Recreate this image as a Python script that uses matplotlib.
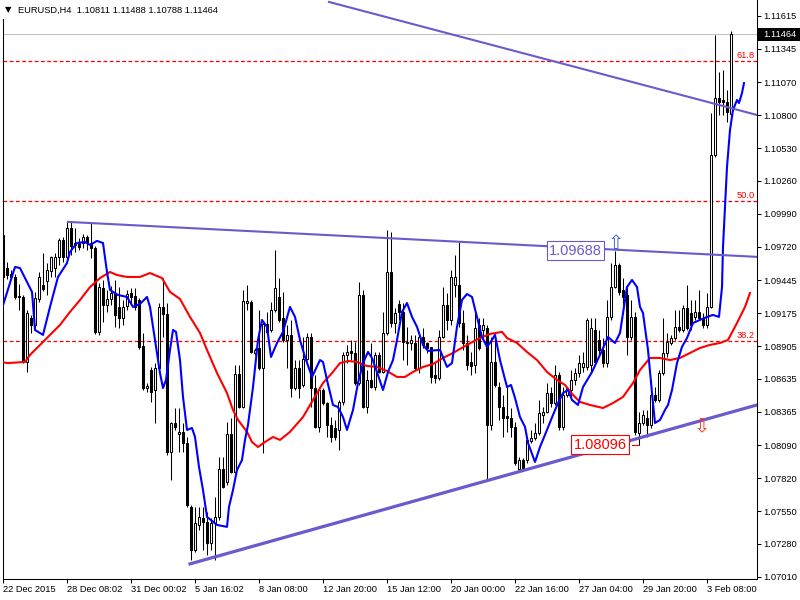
import numpy as np
import matplotlib
matplotlib.use("Agg")
import matplotlib.pyplot as plt
from matplotlib.patches import Rectangle

plt.rcParams['font.family'] = ['Liberation Sans', 'DejaVu Sans']

symbol = "EURUSD,H4"

# H4 candles, one value per bar (price)
opens = [
    1.09817, 1.09545, 1.09496, 1.09472, 1.09316, 1.09308, 1.08774, 1.09135, 1.09078, 1.09291,
    1.09406, 1.09439, 1.09521, 1.09545, 1.09637, 1.09776, 1.09637, 1.09874, 1.09735, 1.09751,
    1.09751, 1.09800, 1.09751, 1.09710, 1.09021, 1.09381, 1.09242, 1.09291, 1.09340, 1.09226,
    1.09135, 1.09234, 1.09340, 1.09316, 1.09283, 1.08906, 1.08560, 1.08708, 1.08544, 1.08724,
    1.09226, 1.09168, 1.08036, 1.08273, 1.08183, 1.08200, 1.08109, 1.07584, 1.07231, 1.07436,
    1.07494, 1.07461, 1.07288, 1.07452, 1.07502, 1.07895, 1.07789, 1.08183, 1.07870, 1.08675,
    1.08404, 1.09262, 1.09267, 1.08848, 1.08889, 1.08724, 1.09086, 1.09037, 1.09201, 1.09308,
    1.09135, 1.08955, 1.08996, 1.08560, 1.08724, 1.08585, 1.08798, 1.08979, 1.08560, 1.08241,
    1.08544, 1.08437, 1.08257, 1.08232, 1.08216, 1.08446, 1.08832, 1.08865, 1.08848, 1.08601,
    1.09324, 1.08404, 1.08626, 1.08568, 1.08832, 1.08692, 1.09012, 1.09513, 1.09094, 1.09250,
    1.09185, 1.08939, 1.08930, 1.08930, 1.08724, 1.08979, 1.08930, 1.08898, 1.08667, 1.08642,
    1.08979, 1.09242, 1.09119, 1.09406, 1.09406, 1.09094, 1.08930, 1.08774, 1.08749, 1.09078,
    1.09037, 1.09053, 1.08257, 1.08774, 1.08568, 1.08404, 1.08331, 1.08314, 1.08241, 1.07895,
    1.07969, 1.07969, 1.08126, 1.08150, 1.08191, 1.08339, 1.08363, 1.08519, 1.08437, 1.08667,
    1.08241, 1.08503, 1.08544, 1.08626, 1.08683, 1.08733, 1.08733, 1.08749, 1.09037, 1.08955,
    1.08873, 1.08765, 1.09144, 1.09389, 1.09570, 1.09365, 1.09324, 1.08979, 1.09144, 1.08191,
    1.08273, 1.08314, 1.08257, 1.08503, 1.08462, 1.08683, 1.08848, 1.08930, 1.08971, 1.09062,
    1.09037, 1.09218, 1.09176, 1.09144, 1.09185, 1.09135, 1.09078, 1.09226, 1.10474, 1.10941,
    1.10925, 1.10909, 1.10811,
]
highs = [
    1.09858, 1.09595, 1.09529, 1.09496, 1.09414, 1.09324, 1.09201, 1.09160, 1.09349, 1.09513,
    1.09669, 1.09586, 1.09645, 1.09669, 1.09792, 1.09800, 1.09924, 1.09924, 1.09874, 1.09792,
    1.09825, 1.09817, 1.09924, 1.09727, 1.09422, 1.09447, 1.09365, 1.09398, 1.09447, 1.09389,
    1.09283, 1.09365, 1.09381, 1.09381, 1.09299, 1.09012, 1.08601, 1.08733, 1.08765, 1.09258,
    1.09463, 1.09258, 1.08282, 1.08396, 1.08396, 1.08273, 1.08158, 1.07600, 1.07584, 1.07584,
    1.07584, 1.07543, 1.07494, 1.07666, 1.07994, 1.07994, 1.08282, 1.08314, 1.08749, 1.08749,
    1.09365, 1.09406, 1.09283, 1.08889, 1.09201, 1.09103, 1.09185, 1.09267, 1.09694, 1.09463,
    1.09349, 1.09078, 1.09119, 1.08790, 1.08790, 1.08979, 1.09012, 1.09012, 1.08667, 1.08568,
    1.08560, 1.08446, 1.08322, 1.08298, 1.08462, 1.08856, 1.08914, 1.08955, 1.08939, 1.09430,
    1.09365, 1.08708, 1.08930, 1.08856, 1.08856, 1.09185, 1.09858, 1.09841, 1.09218, 1.09283,
    1.09258, 1.09062, 1.08996, 1.08996, 1.08996, 1.09053, 1.08939, 1.08898, 1.08765, 1.09037,
    1.09389, 1.09340, 1.09529, 1.09653, 1.09759, 1.09201, 1.08996, 1.08856, 1.09201, 1.09135,
    1.09135, 1.09078, 1.08979, 1.08955, 1.08610, 1.08503, 1.08568, 1.08396, 1.08282, 1.07994,
    1.07986, 1.08158, 1.08216, 1.08273, 1.08462, 1.08404, 1.08601, 1.08568, 1.08749, 1.08692,
    1.08568, 1.08568, 1.08708, 1.08724, 1.08832, 1.08856, 1.09135, 1.09135, 1.09135, 1.09037,
    1.08971, 1.09283, 1.09586, 1.09688, 1.09586, 1.09463, 1.09406, 1.09283, 1.09185, 1.08363,
    1.08380, 1.08380, 1.08626, 1.08568, 1.08708, 1.09135, 1.09012, 1.08996, 1.09201, 1.09201,
    1.09242, 1.09406, 1.09283, 1.09283, 1.09365, 1.09176, 1.09340, 1.10818, 1.11459, 1.11155,
    1.11171, 1.11007, 1.11488,
]
lows = [
    1.09447, 1.09455, 1.09447, 1.09291, 1.09201, 1.08765, 1.08692, 1.09012, 1.09053, 1.09267,
    1.09357, 1.09324, 1.09472, 1.09472, 1.09570, 1.09595, 1.09611, 1.09653, 1.09678, 1.09694,
    1.09710, 1.09694, 1.09628, 1.09004, 1.08996, 1.09103, 1.09185, 1.09242, 1.09062, 1.09053,
    1.09078, 1.09201, 1.09258, 1.09201, 1.08881, 1.08544, 1.08528, 1.08446, 1.08273, 1.08708,
    1.08979, 1.08011, 1.07805, 1.08216, 1.08036, 1.08036, 1.07584, 1.07148, 1.07215, 1.07395,
    1.07231, 1.07190, 1.07231, 1.07148, 1.07477, 1.07739, 1.07764, 1.07862, 1.07862, 1.08396,
    1.08396, 1.09201, 1.08848, 1.08832, 1.08708, 1.08027, 1.09012, 1.09021, 1.09185, 1.09103,
    1.08939, 1.08724, 1.08487, 1.08544, 1.08479, 1.08568, 1.08790, 1.08404, 1.08232, 1.08200,
    1.08421, 1.08158, 1.08117, 1.08134, 1.08052, 1.08421, 1.08765, 1.08790, 1.08585, 1.08585,
    1.08396, 1.08355, 1.08560, 1.08544, 1.08683, 1.08683, 1.08996, 1.09062, 1.09012, 1.09119,
    1.08790, 1.08749, 1.08873, 1.08708, 1.08683, 1.08889, 1.08848, 1.08601, 1.08601, 1.08626,
    1.08971, 1.09037, 1.09078, 1.09308, 1.09062, 1.08873, 1.08708, 1.08667, 1.08683, 1.08873,
    1.08955, 1.07805, 1.08216, 1.08568, 1.08298, 1.08158, 1.08200, 1.08158, 1.07928, 1.07887,
    1.07887, 1.07944, 1.08109, 1.08134, 1.08175, 1.08273, 1.08355, 1.08404, 1.08421, 1.08216,
    1.08216, 1.08487, 1.08487, 1.08585, 1.08651, 1.08692, 1.08708, 1.08692, 1.08749, 1.08832,
    1.08733, 1.08733, 1.09119, 1.09381, 1.09324, 1.09242, 1.08832, 1.08955, 1.08175, 1.08096,
    1.08257, 1.08158, 1.08232, 1.08446, 1.08446, 1.08667, 1.08815, 1.08914, 1.08955, 1.09021,
    1.09021, 1.09037, 1.09037, 1.09119, 1.09119, 1.09053, 1.09053, 1.09218, 1.10457, 1.10802,
    1.10802, 1.10745, 1.10788,
]
closes = [
    1.09472, 1.09488, 1.09472, 1.09308, 1.09308, 1.08774, 1.09176, 1.09078, 1.09299, 1.09472,
    1.09373, 1.09529, 1.09637, 1.09637, 1.09776, 1.09637, 1.09874, 1.09727, 1.09751, 1.09719,
    1.09800, 1.09751, 1.09710, 1.09021, 1.09389, 1.09242, 1.09291, 1.09340, 1.09160, 1.09135,
    1.09226, 1.09332, 1.09308, 1.09226, 1.08898, 1.08560, 1.08577, 1.08528, 1.08724, 1.09226,
    1.09168, 1.08036, 1.08273, 1.08241, 1.08200, 1.08109, 1.07600, 1.07231, 1.07452, 1.07502,
    1.07461, 1.07288, 1.07452, 1.07502, 1.07895, 1.07748, 1.08183, 1.07870, 1.08675, 1.08404,
    1.09275, 1.09275, 1.08856, 1.08873, 1.08724, 1.09086, 1.09021, 1.09201, 1.09381, 1.09119,
    1.08955, 1.08996, 1.08560, 1.08724, 1.08560, 1.08798, 1.08979, 1.08560, 1.08241, 1.08544,
    1.08437, 1.08257, 1.08158, 1.08158, 1.08446, 1.08832, 1.08856, 1.08848, 1.08601, 1.09324,
    1.08404, 1.08626, 1.08568, 1.08832, 1.08692, 1.09012, 1.09513, 1.09094, 1.09176, 1.09185,
    1.08939, 1.08930, 1.08955, 1.08724, 1.08979, 1.08914, 1.08889, 1.08651, 1.08642, 1.08979,
    1.09242, 1.09119, 1.09472, 1.09472, 1.09094, 1.08930, 1.08749, 1.08741, 1.09053, 1.08889,
    1.09078, 1.08257, 1.08774, 1.08585, 1.08404, 1.08314, 1.08314, 1.08241, 1.07944, 1.07969,
    1.07904, 1.08134, 1.08150, 1.08191, 1.08355, 1.08363, 1.08519, 1.08437, 1.08667, 1.08241,
    1.08503, 1.08560, 1.08626, 1.08683, 1.08765, 1.08765, 1.09119, 1.09053, 1.08774, 1.08873,
    1.08765, 1.09144, 1.09389, 1.09570, 1.09349, 1.09308, 1.08979, 1.09144, 1.08200, 1.08273,
    1.08339, 1.08257, 1.08503, 1.08462, 1.08683, 1.08848, 1.08939, 1.08971, 1.09062, 1.09037,
    1.09218, 1.09053, 1.09078, 1.09185, 1.09135, 1.09078, 1.09226, 1.10474, 1.10941, 1.10909,
    1.10909, 1.10827, 1.11464,
]

# moving averages (bar index, price)
blue_idx = [-0.75, 3, 4.25, 7.25, 8, 10, 11.75, 13.75, 16, 16.75, 18.5, 20.5, 21.75, 23.5, 25,
            26, 26.75, 28.75, 31, 32.5, 34.25, 36, 36.75, 38, 39.25, 40, 40.75, 41.75, 42.5,
            43.25, 44.25, 45, 46, 47.25, 48, 49, 50, 51, 53.5, 56, 56.5, 57.5, 58.5, 59.75,
            60.5, 61.25, 62.5, 63.75, 64.75, 66, 67, 68.5, 70, 71.75, 73, 74.25, 75.5, 77.25,
            79.25, 80, 81, 82.5, 83.75, 85, 86, 87.5, 88.75, 90, 91.25, 92.25, 93.75, 95,
            96.25, 97.5, 98.5, 99.75, 101, 102.25, 103.5, 105, 106.25, 109.25, 111, 112.25,
            113.5, 114.75, 116, 117.25, 118.5, 119.75, 121, 122.25, 123, 124.25, 126, 127,
            128, 129.25, 130.5, 131.25, 133, 134.25, 136, 137.5, 138.75, 140, 141.25, 142.25,
            143.75, 145, 147.25, 149.25, 151.25, 153, 154.25, 155, 156, 157.25, 158.5, 159.25,
            160, 161.25, 162.25, 163, 164.25, 165.5, 166.25, 167.25, 168.5, 169.75, 171,
            172.5, 174.25, 176, 177.5, 179, 179.75, 180, 180.5, 181, 181.75, 182.5, 183.5,
            184, 184.75, 185.25]
blue_val = [1.09160, 1.09554, 1.09545, 1.09349, 1.09037, 1.08996, 1.09226, 1.09472, 1.09586,
            1.09678, 1.09751, 1.09759, 1.09735, 1.09768, 1.09751, 1.09513, 1.09365, 1.09324,
            1.09308, 1.09226, 1.09250, 1.09308, 1.09226, 1.08955, 1.08683, 1.08560, 1.08626,
            1.08873, 1.09037, 1.09021, 1.08790, 1.08487, 1.08216, 1.08232, 1.08158, 1.07912,
            1.07723, 1.07502, 1.07436, 1.07420, 1.07584, 1.07723, 1.07887, 1.07969, 1.08134,
            1.08257, 1.08568, 1.08955, 1.09119, 1.09062, 1.08815, 1.08930, 1.09021, 1.09226,
            1.09144, 1.08955, 1.08815, 1.08651, 1.08790, 1.08774, 1.08626, 1.08421, 1.08404,
            1.08322, 1.08216, 1.08380, 1.08601, 1.08765, 1.08856, 1.08807, 1.08667, 1.08544,
            1.08692, 1.08790, 1.08955, 1.09185, 1.09258, 1.09144, 1.09062, 1.08914, 1.08865,
            1.08873, 1.08733, 1.08765, 1.09062, 1.09283, 1.09332, 1.09308, 1.09144, 1.08979,
            1.08898, 1.08955, 1.08996, 1.08790, 1.08568, 1.08585, 1.08479, 1.08322, 1.08241,
            1.08109, 1.07953, 1.08076, 1.08216, 1.08339, 1.08437, 1.08519, 1.08544, 1.08462,
            1.08421, 1.08568, 1.08692, 1.08832, 1.08979, 1.08930, 1.09012, 1.09176, 1.09389,
            1.09447, 1.09389, 1.09226, 1.09176, 1.08873, 1.08519, 1.08273, 1.08298, 1.08380,
            1.08421, 1.08544, 1.08765, 1.08898, 1.08971, 1.09094, 1.09119, 1.09144, 1.09160,
            1.09144, 1.09389, 1.09719, 1.10046, 1.10375, 1.10679, 1.10843, 1.10925, 1.10900,
            1.10982, 1.11064]

red_idx = [-0.75, 1.25, 5.5, 6.75, 9.25, 11.75, 14.25, 16.75, 19.25, 21.75, 24.25, 26.75,
           28.5, 31, 34.25, 36.75, 39.75, 41.75, 44.25, 46.75, 49.25, 51, 53.5, 56, 57.5,
           58.75, 61, 62.25, 63.75, 65.5, 67.5, 69.25, 71.75, 75, 77.5, 80, 82.25, 84.25,
           86.25, 88.5, 91, 93.5, 96, 98.5, 100.5, 102.5, 105, 107.5, 110, 112.5, 116,
           119.25, 121.75, 124.75, 126, 128.5, 131, 133.5, 136, 138.5, 140.5, 142.5, 144.25,
           146.75, 150, 152.5, 155, 157.5, 159.25, 161.75, 164.25, 166.75, 169.25, 171.75,
           174.25, 176.75, 179.25, 181.25, 183.5, 185.5, 186.75]
red_val = [1.08774, 1.08765, 1.08774, 1.08832, 1.08914, 1.08996, 1.09078, 1.09185, 1.09283,
           1.09389, 1.09463, 1.09513, 1.09488, 1.09472, 1.09472, 1.09504, 1.09463, 1.09349,
           1.09291, 1.09144, 1.09012, 1.08873, 1.08683, 1.08519, 1.08380, 1.08298, 1.08200,
           1.08117, 1.08076, 1.08117, 1.08158, 1.08134, 1.08200, 1.08322, 1.08462, 1.08601,
           1.08683, 1.08765, 1.08782, 1.08774, 1.08741, 1.08733, 1.08700, 1.08651, 1.08651,
           1.08692, 1.08733, 1.08757, 1.08807, 1.08848, 1.08914, 1.08971, 1.09004, 1.09021,
           1.08971, 1.08930, 1.08856, 1.08790, 1.08692, 1.08626, 1.08585, 1.08503, 1.08446,
           1.08421, 1.08396, 1.08437, 1.08487, 1.08601, 1.08708, 1.08807, 1.08807, 1.08790,
           1.08807, 1.08848, 1.08889, 1.08914, 1.08930, 1.08955, 1.09094, 1.09226, 1.09340]

# fibonacci levels
fib_names = ["61.8", "50.0", "38.2"]
fib_prices = [1.11245, 1.10096, 1.08947]

# trend lines (bar index, price)
resist_idx = [81.5, 188.5]
resist_val = [1.11730, 1.10802]
upper_idx = [16.25, 188.5]
upper_val = [1.09924, 1.09637]
support_idx = [46.75, 188.5]
support_val = [1.07116, 1.08421]

high_bar, high_price = 153, 1.09688
low_bar, low_price = 159, 1.08096

ytick_vals = [1.11615, 1.11345, 1.11070, 1.10800, 1.10530, 1.10260, 1.09990, 1.09720,
              1.09445, 1.09175, 1.08905, 1.08635, 1.08365, 1.08090, 1.07820, 1.07550,
              1.07280, 1.07010]
xtick_idx = [0, 16, 32, 48, 64, 80, 96, 112, 128, 144, 160, 176]
xtick_labels = ["22 Dec 2015", "28 Dec 08:02", "31 Dec 00:02", "5 Jan 16:02", "8 Jan 08:00",
                "12 Jan 20:00", "15 Jan 12:00", "20 Jan 00:00", "22 Jan 16:00",
                "27 Jan 04:00", "29 Jan 20:00", "3 Feb 08:00"]

slate = "#6A5ACD"
fs = 6.7

fig = plt.figure(figsize=(8, 6), dpi=100)
ax = fig.add_axes([2.5 / 800, 1 - 579 / 600, 754.5 / 800, 579 / 600])
ax.set_xlim(-0.125, 188.5)
ax.set_ylim(1.06992, 1.11746)

# levels
ax.axhline(closes[-1], color="#C0C0C0", lw=0.75, zorder=1)
for name, p in zip(fib_names, fib_prices):
    ax.axhline(p, color="#FF0000", lw=0.9, ls=(0, (3, 2)), zorder=1)
    ax.text(188.0, p + 0.00006, name, color="#FF0000", fontsize=fs, ha="right", va="bottom", zorder=6)

# candles
o = np.array(opens)
h = np.array(highs)
l = np.array(lows)
c = np.array(closes)
idx = np.arange(len(o))
bull = c >= o
ax.vlines(idx, l, h, color="black", lw=0.75, zorder=2)
body = np.maximum(np.abs(c - o), 0.00002)
ax.bar(idx, body, bottom=np.minimum(o, c), width=0.72,
       color=np.where(bull, "white", "black"), edgecolor="black", linewidth=0.75, zorder=3)

# moving averages
ax.plot(red_idx, red_val, color="red", lw=1.5, zorder=4)
ax.plot(blue_idx, blue_val, color="blue", lw=1.5, zorder=4)

# trend lines
ax.plot(resist_idx, resist_val, color=slate, lw=1.5, zorder=5)
ax.plot(upper_idx, upper_val, color=slate, lw=1.5, zorder=5)
ax.plot(support_idx, support_val, color=slate, lw=2.3, zorder=5)

# price labels
ax.text(143.1, high_price, f"{high_price:.5f}", color=slate, fontsize=10.5, ha="center", va="center",
        zorder=7, bbox=dict(boxstyle="square,pad=0.15", fc="white", ec=slate, lw=0.8))
ax.text(149.25, low_price, f"{low_price:.5f}", color="red", fontsize=10.5, ha="center", va="center",
        zorder=7, bbox=dict(boxstyle="square,pad=0.15", fc="white", ec="red", lw=0.8))
ax.plot([157.3, low_bar], [low_price, low_price], color="red", lw=0.75, zorder=6)
ax.text(high_bar + 0.25, high_price + 0.0006, "\u21e7", color="#3A5FE0", fontsize=14,
        ha="center", va="center", family="DejaVu Sans", zorder=7)
ax.text(174.75, 1.08241, "\u21e9", color="#FF3B1F", fontsize=14,
        ha="center", va="center", family="DejaVu Sans", zorder=7)

# axes style
for side in ["left", "right", "bottom"]:
    ax.spines[side].set_linewidth(0.75)
    ax.spines[side].set_color("black")
ax.spines["top"].set_visible(False)
ax.yaxis.tick_right()
ax.set_yticks(ytick_vals)
ax.set_yticklabels([f"{v:.5f}" for v in ytick_vals])
ax.set_xticks(xtick_idx)
ax.set_xticklabels(xtick_labels, ha="left")
ax.tick_params(axis="y", length=3, width=0.75, pad=1.5, labelsize=fs)
ax.tick_params(axis="x", length=3, width=0.75, pad=1.5, labelsize=fs)

# current price tag
ytr = ax.get_yaxis_transform()
ax.add_patch(Rectangle((1.0, closes[-1] - 0.00052), 0.06, 0.00104, transform=ytr,
                       facecolor="black", edgecolor="none", clip_on=False, zorder=8))
ax.text(1.008, closes[-1], f"{closes[-1]:.5f}", transform=ytr, color="white", fontsize=fs,
        ha="left", va="center", zorder=9)

# title
fig.add_artist(Rectangle((0, 1 - 19 / 600), 230 / 800, 19 / 600, transform=fig.transFigure,
                         facecolor="white", edgecolor="none", zorder=5))
fig.text(5 / 800, 1 - 10 / 600, "\u25bc", fontsize=6, family="DejaVu Sans", va="center", zorder=6)
fig.text(18 / 800, 1 - 10 / 600,
         f"{symbol}  {opens[-1]:.5f} {highs[-1]:.5f} {lows[-1]:.5f} {closes[-1]:.5f}",
         fontsize=fs, va="center", zorder=6)

fig.savefig("out.png", dpi=100)
